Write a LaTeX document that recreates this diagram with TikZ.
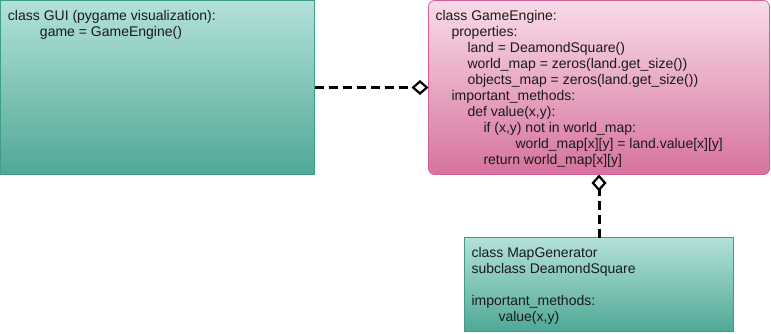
\documentclass[tikz,border=0pt]{standalone}
\usepackage{fontspec}
\setmainfont{Liberation Sans}
\usetikzlibrary{arrows.meta,positioning}

\definecolor{tealtop}{HTML}{B3E1DA}
\definecolor{tealbot}{HTML}{4FA896}
\definecolor{tealedge}{HTML}{3F9C89}
\definecolor{pinktop}{HTML}{F9DBE8}
\definecolor{pinkbot}{HTML}{D6739E}
\definecolor{pinkedge}{HTML}{D45F98}
\definecolor{codegray}{HTML}{1A1A1A}

% one indentation step of the pseudo code
\newlength{\lvlstep}
\setlength{\lvlstep}{16pt}
\newcommand{\lvl}[1]{\hspace*{#1\lvlstep}}

\begin{document}
\begin{tikzpicture}[
    x=1pt, y=-1pt,
    every node/.style={inner sep=0pt, outer sep=0pt},
    classbox/.style={draw=tealedge, line width=0.8pt, top color=tealtop, bottom color=tealbot, anchor=north west},
    enginebox/.style={draw=pinkedge, line width=0.8pt, top color=pinktop, bottom color=pinkbot, rounded corners=6pt, anchor=north west},
    code/.style={align=left, text=codegray, font=\fontsize{14}{16}\selectfont},
    assoc/.style={line width=3pt, dash pattern=on 9pt off 5pt, -{Diamond[fill=white, length=17pt, width=15pt, line width=2.2pt]}}
]
\useasboundingbox (0,0) rectangle (771,333);

% class boxes
\node[classbox, minimum width=314pt, minimum height=174pt] (gui) at (0.5,0.5) {};
\node[enginebox, minimum width=341pt, minimum height=174pt] (engine) at (428.5,0.5) {};
\node[classbox, minimum width=269pt, minimum height=94pt] (mapgen) at (464.5,237.5) {};

% contents
\node[code, below right=10pt and 7.5pt of gui.north west] (guitext) {%
class GUI (pygame visualization):\\
\lvl{2}game = GameEngine()};
\node[code, below right=10pt and 7pt of engine.north west] (enginetext) {%
class GameEngine:\\
\lvl{1}properties:\\
\lvl{2}land = DeamondSquare()\\
\lvl{2}world\_map = zeros(land.get\_size())\\
\lvl{2}objects\_map = zeros(land.get\_size())\\
\lvl{1}important\_methods:\\
\lvl{2}def value(x,y):\\
\lvl{3}if (x,y) not in world\_map:\\
\lvl{5}world\_map[x][y] = land.value[x][y]\\
\lvl{3}return world\_map[x][y]};
\node[code, below right=10pt and 7pt of mapgen.north west] (mapgentext) {%
class MapGenerator\\
subclass DeamondSquare\\[16pt]
important\_methods:\\
\hspace*{27pt}value(x,y)};

% associations
\draw[assoc] (gui.east) -- (engine.west);
\draw[assoc] (mapgen.north) -- (mapgen.north |- engine.south);
\end{tikzpicture}
\end{document}
